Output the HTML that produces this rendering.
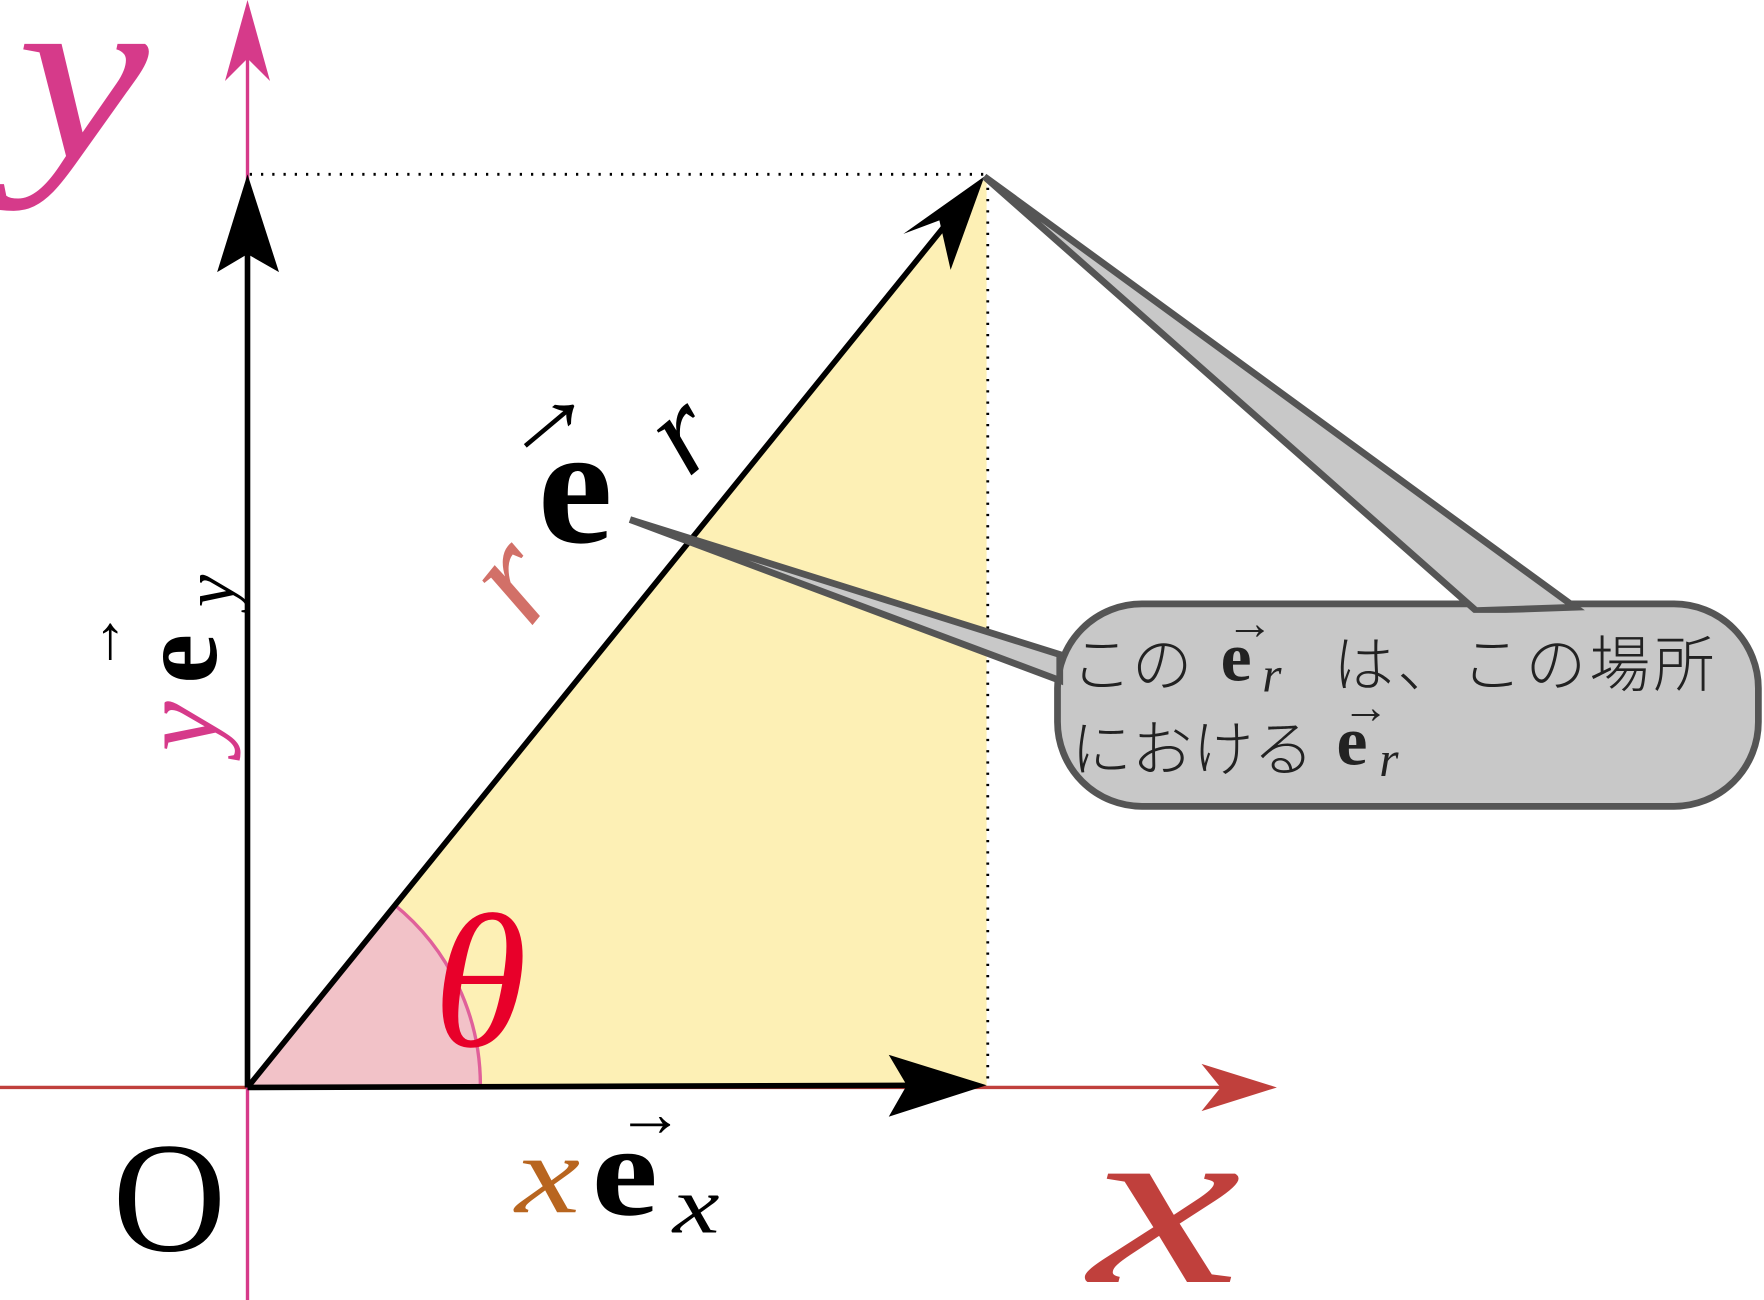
<!DOCTYPE html>
<html><head><meta charset="utf-8"><style>html,body{margin:0;padding:0;background:#fff}svg{display:block}</style></head>
<body>
<svg width="1764" height="1300" viewBox="0 0 1568 1156" preserveAspectRatio="none" xmlns="http://www.w3.org/2000/svg">
<polygon points="220,967 877,157 877,967" fill="#fdf0b5"/>
<path d="M220,967 L350,804 A207,207 0 0 1 427,967 Z" fill="#f2c2c8" stroke="none"/>
<path d="M350,804 A207,207 0 0 1 427,967" fill="none" stroke="#e0609a" stroke-width="3"/>
<line x1="0" y1="967" x2="1100" y2="967" stroke="#c0403c" stroke-width="3"/>
<path d="M1135,967 L1068,946 L1085,967 L1068,988 Z" fill="#c0403c"/>
<line x1="220" y1="1156" x2="220" y2="40" stroke="#d63a8a" stroke-width="3"/>
<path d="M220,0 L200,72 L220,52 L240,72 Z" fill="#d63a8a"/>
<line x1="222" y1="155" x2="877" y2="155" stroke="#000" stroke-width="2.5" stroke-dasharray="2,8"/>
<line x1="878" y1="157" x2="878" y2="967" stroke="#000" stroke-width="2.5" stroke-dasharray="2,8"/>
<g stroke="#000" stroke-width="5" fill="none">
<line x1="220" y1="967" x2="220" y2="190"/>
<line x1="220" y1="967" x2="850" y2="965"/>
<line x1="220" y1="967" x2="855" y2="182"/>
</g>
<path d="M220,155 L193,242 L220,226 L248,242 Z" fill="#000"/>
<path d="M877,965 L790,938 L806,965 L790,993 Z" fill="#000"/>
<path d="M875,157 L803,208 L835,196 L845,240 Z" fill="#000"/>
<rect x="940" y="537" width="623" height="180" rx="75" fill="#c8c8c8" stroke="#555" stroke-width="6"/>
<path d="M875,157 L1312,543 L1400,540 Z" fill="#c8c8c8" stroke="#555" stroke-width="6" stroke-linejoin="miter"/>
<path d="M560,462 L942,582 L942,605 Z" fill="#c8c8c8" stroke="#555" stroke-width="6"/>
<rect x="945" y="545" width="612" height="165" rx="70" fill="#c8c8c8"/>
<g font-family="Liberation Serif, serif">
<text x="0" y="0" font-size="220" font-style="italic" fill="#d63a8a" transform="translate(15,140) scale(1.2,1)">y</text>
<text x="100" y="1112" font-size="140" fill="#000">O</text>
<text x="0" y="0" font-size="210" font-style="italic" fill="#c0403c" transform="translate(968,1140) scale(1.45,1)">x</text>
<text x="385" y="930" font-size="170" font-style="italic" fill="#e8002a">θ</text>
<text x="0" y="0" font-size="100" font-style="italic" fill="#b8651f" transform="translate(458,1078) scale(1.3,1)">x</text>
<text x="0" y="0" font-size="115" font-weight="bold" fill="#000" transform="translate(526,1080) scale(1.15,1)">e</text>
<text x="548" y="1010" font-size="60" fill="#000">→</text>
<text x="0" y="0" font-size="72" font-style="italic" fill="#000" transform="translate(598,1096) scale(1.3,1)">x</text>
<g transform="translate(470,560) rotate(-51)">
<text x="0" y="0" font-size="130" font-style="italic" fill="#d27068">r</text>
</g>
<text x="478" y="482" font-size="150" font-weight="bold" fill="#000">e</text>
<text x="440" y="400" font-size="95" fill="#000" transform="rotate(-40 480 380)">→</text>
<text x="588" y="418" font-size="110" font-style="italic" fill="#000" transform="rotate(-40 610 390)">r</text>
<g transform="translate(192,668) rotate(-90)">
<text x="0" y="0" font-size="100" font-style="italic" fill="#d63a8a">y</text>
<text x="60" y="0" font-size="100" font-weight="bold" fill="#000">e</text>
<text x="70" y="-85" font-size="55" fill="#000">→</text>
<text x="128" y="16" font-size="65" font-style="italic" fill="#000">y</text>
</g>
</g>
<g fill="#222">
<text x="952" y="610" font-size="54" font-family="'Noto Sans CJK JP', sans-serif" font-weight="300">この</text>
<text x="1085" y="605" font-size="62" font-weight="bold" font-family="Liberation Serif, serif">e</text>
<text x="1090" y="568" font-size="42" font-family="Liberation Serif, serif">→</text>
<text x="1122" y="615" font-size="44" font-style="italic" font-family="Liberation Serif, serif">r</text>
<text x="1185" y="610" font-size="54" font-family="'Noto Sans CJK JP', sans-serif" font-weight="300" letter-spacing="3">は、この場所</text>
<text x="952" y="685" font-size="54" font-family="'Noto Sans CJK JP', sans-serif" font-weight="300">における</text>
<text x="1188" y="680" font-size="62" font-weight="bold" font-family="Liberation Serif, serif">e</text>
<text x="1193" y="643" font-size="42" font-family="Liberation Serif, serif">→</text>
<text x="1226" y="690" font-size="44" font-style="italic" font-family="Liberation Serif, serif">r</text>
</g>
</svg>
</body></html>
